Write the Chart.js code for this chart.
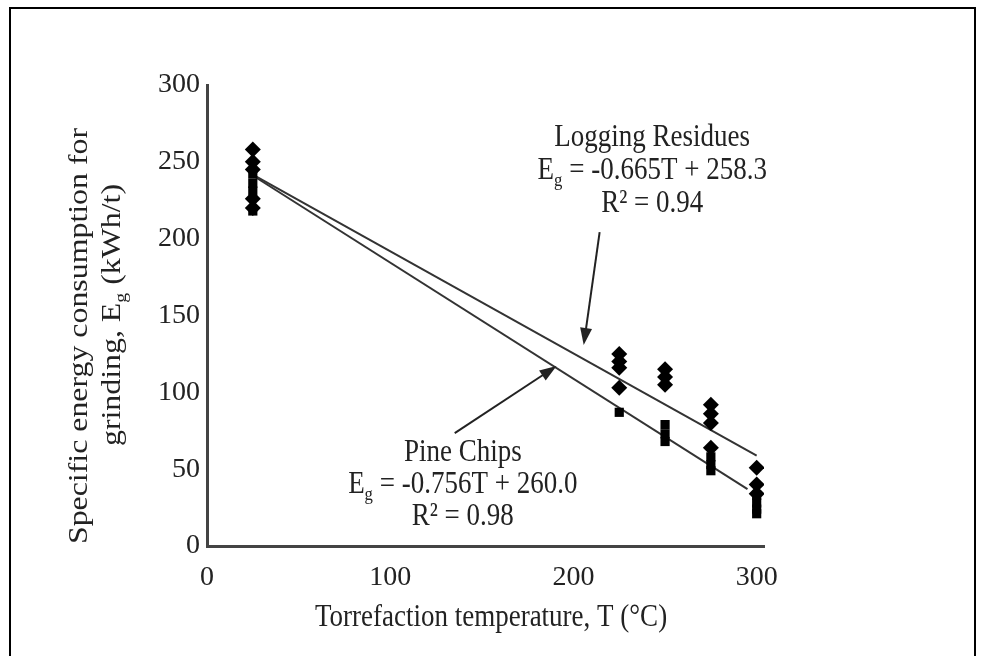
<!DOCTYPE html>
<html>
<head>
<meta charset="utf-8">
<script src="https://cdn.jsdelivr.net/npm/chart.js@4.4.0/dist/chart.umd.min.js"></script>
<style>
  html, body { margin: 0; padding: 0; background: #fff; }
  #wrap { position: relative; width: 981px; height: 656px; overflow: hidden; }
  #frame { position: absolute; left: 9px; top: 7px; width: 963px; height: 700px; border: 2px solid #000; pointer-events: none; }
  canvas { position: absolute; left: 0; top: 0; }
</style>
</head>
<body>
<div id="wrap">
  <canvas id="chart" width="981" height="656"></canvas>
  <div id="frame"></div>
</div>
<script>
// logging residues (diamonds)
const lrTemp = [25, 25, 25, 25, 25, 225, 225, 225, 225, 250, 250, 250, 275, 275, 275, 275, 300, 300, 300];
const lrEnergy = [258, 250, 245, 226, 220, 125, 120, 116, 103, 115, 110, 105, 92, 86, 80, 64, 51, 40, 34];

// pine chips (squares)
const pcTemp = [25, 25, 25, 25, 225, 250, 250, 250, 275, 275, 275, 300, 300, 300, 300];
const pcEnergy = [242, 236, 231, 218, 87, 79, 73, 68, 58, 53, 49, 33, 28, 24, 21];

// fitted lines, end points
const lrFitTemp = [25, 300];
const lrFitEnergy = [241.7, 58.8];
const pcFitTemp = [25, 295];
const pcFitEnergy = [241.1, 37.0];

const xTicks = [0, 100, 200, 300];
const yTicks = [0, 50, 100, 150, 200, 250, 300];

const fontFam = '"Liberation Serif", "Times New Roman", serif';
const stretch = 1.18;
const ink = "#222";

function pts(xs, ys) {
  return xs.map((x, i) => ({ x: x, y: ys[i] }));
}

// text with optional subscript parts, centered at x,y
function drawRich(ctx, parts, x, y, size, rotate) {
  ctx.save();
  ctx.translate(x, y);
  ctx.scale(1, stretch);
  if (rotate) ctx.rotate(-Math.PI / 2);
  ctx.fillStyle = ink;
  ctx.textBaseline = "middle";
  ctx.textAlign = "left";
  const subSize = size * 0.62;
  let total = 0;
  const widths = parts.map(p => {
    ctx.font = (p[1] ? subSize : size) + "px " + fontFam;
    const w = ctx.measureText(p[0]).width;
    total += w;
    return w;
  });
  let cx = -total / 2;
  parts.forEach((p, i) => {
    ctx.font = (p[1] ? subSize : size) + "px " + fontFam;
    ctx.fillText(p[0], cx, p[1] ? size * 0.32 : 0);
    cx += widths[i];
  });
  ctx.restore();
}

function arrow(ctx, x1, y1, x2, y2) {
  const a = Math.atan2(y2 - y1, x2 - x1);
  const len = 17, hw = 6;
  ctx.save();
  ctx.strokeStyle = ink;
  ctx.fillStyle = ink;
  ctx.lineWidth = 2;
  ctx.beginPath();
  ctx.moveTo(x1, y1);
  ctx.lineTo(x2 - Math.cos(a) * len * 0.8, y2 - Math.sin(a) * len * 0.8);
  ctx.stroke();
  ctx.beginPath();
  ctx.moveTo(x2, y2);
  ctx.lineTo(x2 - Math.cos(a) * len - Math.sin(a) * hw, y2 - Math.sin(a) * len + Math.cos(a) * hw);
  ctx.lineTo(x2 - Math.cos(a) * len + Math.sin(a) * hw, y2 - Math.sin(a) * len - Math.cos(a) * hw);
  ctx.closePath();
  ctx.fill();
  ctx.restore();
}

// labels placed in data units
const notes = {
  lr: { x: 243, y: [266, 244, 223], arrow: [214.3, 204.3, 205.6, 130.8] },
  pc: { x: 139.6, y: [61, 39.7, 18.9], arrow: [135.2, 73.5, 190.8, 117.1] }
};

const textPlugin = {
  id: "texts",
  afterDraw(chart) {
    const ctx = chart.ctx;
    const sx = chart.scales.x, sy = chart.scales.y;
    const X = v => sx.getPixelForValue(v), Y = v => sy.getPixelForValue(v);

    drawRich(ctx, [["Logging Residues"]], X(notes.lr.x), Y(notes.lr.y[0]), 27);
    drawRich(ctx, [["E"], ["g", true], [" = -0.665T + 258.3"]], X(notes.lr.x), Y(notes.lr.y[1]), 27);
    drawRich(ctx, [["R\u00b2 = 0.94"]], X(notes.lr.x), Y(notes.lr.y[2]), 27);
    const la = notes.lr.arrow;
    arrow(ctx, X(la[0]), Y(la[1]), X(la[2]), Y(la[3]));

    drawRich(ctx, [["Pine Chips"]], X(notes.pc.x), Y(notes.pc.y[0]), 27);
    drawRich(ctx, [["E"], ["g", true], [" = -0.756T + 260.0"]], X(notes.pc.x), Y(notes.pc.y[1]), 27);
    drawRich(ctx, [["R\u00b2 = 0.98"]], X(notes.pc.x), Y(notes.pc.y[2]), 27);
    const pa = notes.pc.arrow;
    arrow(ctx, X(pa[0]), Y(pa[1]), X(pa[2]), Y(pa[3]));

    // axis titles
    drawRich(ctx, [["Torrefaction temperature, T (\u00b0C)"]], 491, 618, 27);
    drawRich(ctx, [["Specific energy consumption for"]], 80, 336, 27, true);
    drawRich(ctx, [["grinding, E"], ["g", true], [" (kWh/t)"]], 113, 315, 27, true);
  }
};

const ctx = document.getElementById("chart").getContext("2d");

const chart = new Chart(ctx, {
  type: "scatter",
  data: {
    datasets: [
      {
        label: "Logging Residues",
        data: pts(lrTemp, lrEnergy),
        pointStyle: "rectRot",
        pointRadius: 8,
        backgroundColor: "#000",
        borderColor: "#000",
        borderWidth: 0,
        order: 1,
      },
      {
        label: "Pine Chips",
        data: pts(pcTemp, pcEnergy),
        pointStyle: "rect",
        pointRadius: 6.5,
        backgroundColor: "#000",
        borderColor: "#000",
        borderWidth: 0,
        order: 1,
      },
      {
        type: "line",
        label: "Logging Residues fit",
        data: pts(lrFitTemp, lrFitEnergy),
        borderColor: "#333",
        borderWidth: 2,
        pointRadius: 0,
        fill: false,
        order: 2,
      },
      {
        type: "line",
        label: "Pine Chips fit",
        data: pts(pcFitTemp, pcFitEnergy),
        borderColor: "#333",
        borderWidth: 2,
        pointRadius: 0,
        fill: false,
        order: 2,
      },
    ],
  },
  options: {
    responsive: false,
    animation: false,
    layout: {
      padding: { left: 10, right: 217, top: 85, bottom: 0 },
    },
    plugins: {
      legend: { display: false },
      tooltip: { enabled: false },
    },
    scales: {
      x: {
        type: "linear",
        min: 0,
        max: 304,
        afterBuildTicks: (s) => { s.ticks = xTicks.map(v => ({ value: v })); },
        afterFit: (s) => { s.height = 110; },
        grid: { display: false, drawTicks: false },
        border: { color: "#444", width: 3 },
        ticks: {
          padding: 15,
          maxRotation: 0,
          color: ink,
          font: { family: fontFam, size: 28 },
        },
      },
      y: {
        min: 0,
        max: 300,
        afterBuildTicks: (s) => { s.ticks = yTicks.map(v => ({ value: v })); },
        afterFit: (s) => { s.width = 197; },
        grid: { display: false, drawTicks: false },
        border: { color: "#444", width: 3 },
        ticks: {
          padding: 7,
          color: ink,
          font: { family: fontFam, size: 28 },
        },
      },
    },
  },
  plugins: [textPlugin],
});
</script>
</body>
</html>
